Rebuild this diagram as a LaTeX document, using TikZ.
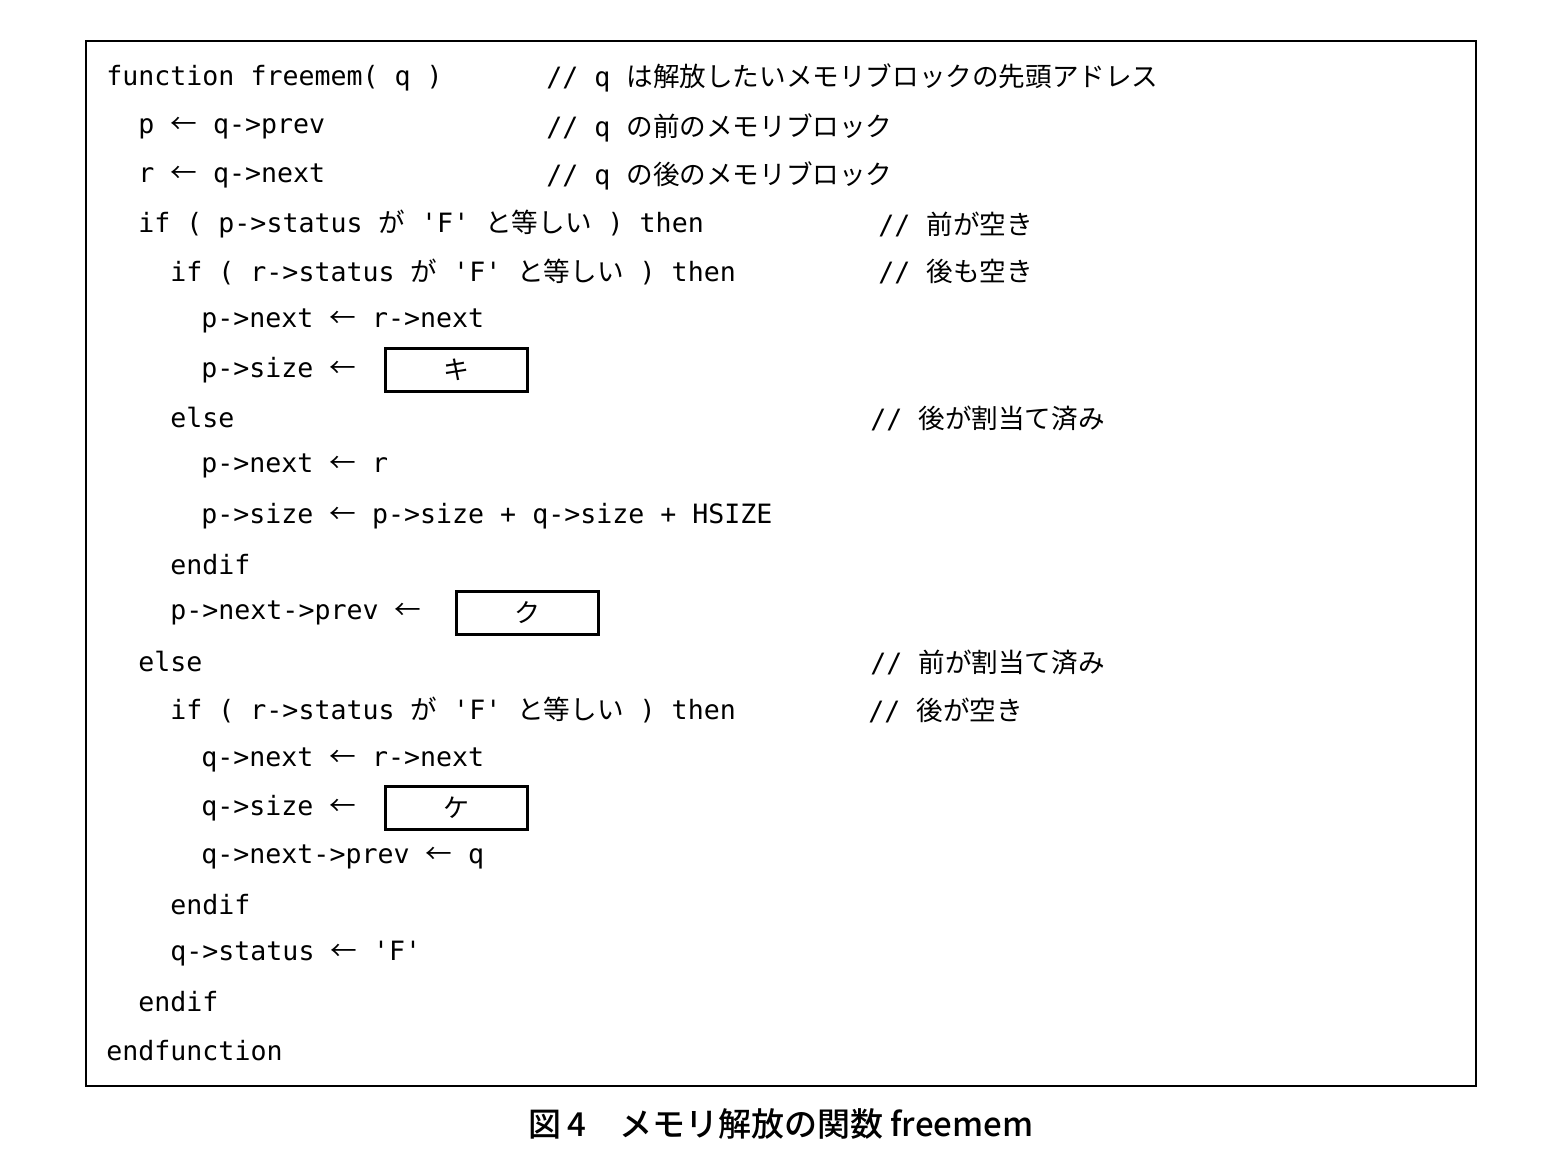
\documentclass[tikz,border=0pt]{standalone}
\usepackage{fontspec}
\newfontfamily\code{DejaVu Sans Mono}
\newfontfamily\jp{Noto Sans CJK JP}
\newfontfamily\jpb{Noto Sans CJK JP Medium}
\newcommand\J[1]{{\jp #1}}
\newcommand\ar{\J{←}}
\begin{document}
\begin{tikzpicture}[x=0.5pt,y=-0.5pt,
  ln/.style={anchor=west,inner sep=0pt,font=\code\fontsize{13.3pt}{16pt}\selectfont},
  blank/.style={draw,line width=1.3pt,minimum width=71pt,minimum height=21.5pt,inner sep=0pt,anchor=west,font=\jp\fontsize{13pt}{16pt}\selectfont}]
\useasboundingbox (0,0) rectangle (1556,1172);
\draw[line width=0.9pt] (86,41) rectangle (1476,1086);
\node[ln] (l1) at (106,78) {function freemem( q )};
\node[ln] (c1) at (546,78) {// q \J{は解放したいメモリブロックの先頭アドレス}};
\node[ln] (l2) at (138,128) {p \ar{} q->prev};
\node[ln] (c2) at (546,128) {// q \J{の前のメモリブロック}};
\node[ln] (l3) at (138,176) {r \ar{} q->next};
\node[ln] (c3) at (546,176) {// q \J{の後のメモリブロック}};
\node[ln] (l4) at (138,224) {if ( p->status \J{が} 'F' \J{と等しい} ) then};
\node[ln] (c4) at (878,224) {// \J{前が空き}};
\node[ln] (l5) at (170,272) {if ( r->status \J{が} 'F' \J{と等しい} ) then};
\node[ln] (c5) at (878,272) {// \J{後も空き}};
\node[ln] (l6) at (201,321) {p->next \ar{} r->next};
\node[ln] (l7) at (201,370) {p->size \ar};
\node[blank] (k) at (384,370) {キ};
\node[ln] (l8) at (170,418) {else};
\node[ln] (c8) at (870,418) {// \J{後が割当て済み}};
\node[ln] (l9) at (201,466) {p->next \ar{} r};
\node[ln] (l10) at (201,516) {p->size \ar{} p->size + q->size + HSIZE};
\node[ln] (l11) at (170,565) {endif};
\node[ln] (l12) at (170,613) {p->next->prev \ar};
\node[blank] (ku) at (455,613) {ク};
\node[ln] (l13) at (138,662) {else};
\node[ln] (c13) at (870,662) {// \J{前が割当て済み}};
\node[ln] (l14) at (170,710) {if ( r->status \J{が} 'F' \J{と等しい} ) then};
\node[ln] (c14) at (868,710) {// \J{後が空き}};
\node[ln] (l15) at (201,760) {q->next \ar{} r->next};
\node[ln] (l16) at (201,808) {q->size \ar};
\node[blank] (ke) at (384,808) {ケ};
\node[ln] (l17) at (201,857) {q->next->prev \ar{} q};
\node[ln] (l18) at (170,905) {endif};
\node[ln] (l19) at (170,954) {q->status \ar{} 'F'};
\node[ln] (l20) at (138,1002) {endif};
\node[ln] (l21) at (106,1051) {endfunction};
\node[font=\jpb\fontsize{16.5pt}{20pt}\selectfont,inner sep=0pt] (cap) at (781,1124) {図\,4\quad メモリ解放の関数 freemem};
\end{tikzpicture}
\end{document}
